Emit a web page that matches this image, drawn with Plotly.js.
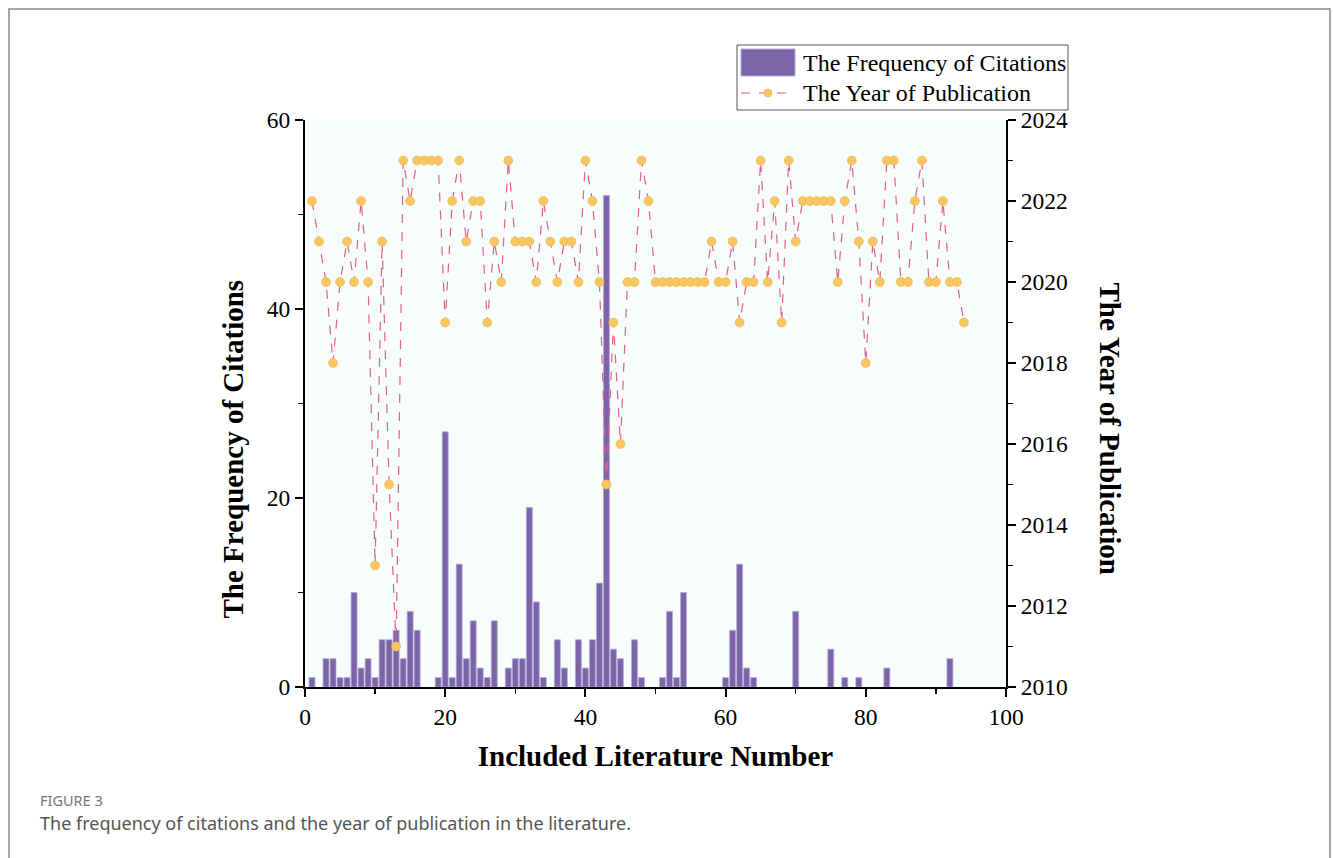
<!DOCTYPE html>
<html>
<head>
<meta charset="utf-8">
<script src="https://cdn.plot.ly/plotly-3.0.1.min.js"></script>
<style>
html,body{margin:0;padding:0;background:#fff;}
#chart{width:1333px;height:858px;}
</style>
</head>
<body>
<div id="chart"></div>
<script>
// Bar data: literature number -> frequency of citations
const barNumbers = [1,3,4,5,6,7,8,9,10,11,12,13,14,15,16,19,20,21,22,23,24,25,26,27,29,30,31,32,33,34,36,37,39,40,41,42,43,44,45,47,48,51,52,53,54,60,61,62,63,64,70,75,77,79,83,92];
const citations  = [1,3,3,1,1,10,2,3,1,5,5,6,3,8,6,1,27,1,13,3,7,2,1,7,2,3,3,19,9,1,5,2,5,2,5,11,52,4,3,5,1,1,8,1,10,1,6,13,2,1,8,4,1,1,2,3];

// Line data: literature number 1..94 -> year of publication
const yearNumbers = Array.from({length:94},(_,i)=>i+1);
const years = [
  2022,2021,2020,2018,2020,2021,2020,2022,2020,2013,
  2021,2015,2011,2023,2022,2023,2023,2023,2023,2019,
  2022,2023,2021,2022,2022,2019,2021,2020,2023,2021,
  2021,2021,2020,2022,2021,2020,2021,2021,2020,2023,
  2022,2020,2015,2019,2016,2020,2020,2023,2022,2020,
  2020,2020,2020,2020,2020,2020,2020,2021,2020,2020,
  2021,2019,2020,2020,2023,2020,2022,2019,2023,2021,
  2022,2022,2022,2022,2022,2020,2022,2023,2021,2018,
  2021,2020,2023,2023,2020,2020,2022,2023,2020,2020,
  2022,2020,2020,2019
];

const barName = "The Frequency of Citations";
const lineName = "The Year of Publication";
const xTitle = "Included Literature Number";
const figLabel = "FIGURE 3";
const caption = "The frequency of citations and the year of publication in the literature.";

const serif = "Liberation Serif, Times New Roman, serif";
const purple = "#7B64A8";
const pink = "#DE5F88";
const gold = "#F8C65E";

const traces = [
  {
    type: "bar", x: barNumbers, y: citations, name: barName,
    width: 0.85,
    marker: {color: purple, line: {color: "#B7A9D6", width: 0.8}},
    showlegend: false, hoverinfo: "x+y"
  },
  {
    type: "scatter", mode: "lines+markers", x: yearNumbers, y: years, name: lineName,
    yaxis: "y2",
    line: {color: pink, width: 1.2, dash: "dash"},
    marker: {color: gold, size: 9, line: {color: "#F0B450", width: 0.6}},
    showlegend: false
  }
];

const tickFont = {family: serif, size: 23.5, color: "#000"};

const layout = {
  width: 1333, height: 858,
  margin: {l: 305, r: 327, t: 120, b: 171, pad: 0},
  paper_bgcolor: "#ffffff",
  plot_bgcolor: "#F7FDFD",
  bargap: 0,
  xaxis: {
    range: [0, 100], tick0: 0, dtick: 20,
    ticks: "outside", ticklen: 8, tickwidth: 2, tickcolor: "#000",
    minor: {dtick: 10, ticks: "outside", ticklen: 5, tickwidth: 1.5, tickcolor: "#000"},
    showline: true, linecolor: "#000", linewidth: 2,
    showgrid: false, zeroline: false,
    tickfont: tickFont,
    title: {text: xTitle, font: {family: serif, size: 29, color: "#000", weight: "bold"}, standoff: 16}
  },
  yaxis: {
    range: [0, 60], tick0: 0, dtick: 20,
    ticks: "outside", ticklen: 8, tickwidth: 2, tickcolor: "#000",
    minor: {dtick: 10, ticks: "outside", ticklen: 5, tickwidth: 1.5, tickcolor: "#000"},
    showline: true, linecolor: "#000", linewidth: 2,
    showgrid: false, zeroline: false,
    tickfont: tickFont
  },
  yaxis2: {
    overlaying: "y", side: "right",
    range: [2010, 2024], tick0: 2010, dtick: 2,
    ticks: "outside", ticklen: 8, tickwidth: 2, tickcolor: "#000",
    minor: {dtick: 1, ticks: "outside", ticklen: 5, tickwidth: 1.5, tickcolor: "#000"},
    showline: true, linecolor: "#000", linewidth: 2,
    showgrid: false, zeroline: false,
    tickfont: tickFont
  },
  shapes: [
    // figure frame
    {type: "rect", xref: "paper", yref: "paper", xsizemode: "pixel", ysizemode: "pixel",
     xanchor: 0, yanchor: 0, x0: -296, x1: 1025, y0: -190, y1: 678,
     line: {color: "#8a8a8a", width: 1.5}, fillcolor: "rgba(0,0,0,0)", layer: "below"},
    // legend box
    {type: "rect", xref: "paper", yref: "paper", xsizemode: "pixel", ysizemode: "pixel",
     xanchor: 0, yanchor: 1, x0: 432, x1: 763, y0: 75, y1: 10,
     line: {color: "#555", width: 1}, fillcolor: "#fff"},
    // legend bar swatch
    {type: "rect", xref: "paper", yref: "paper", xsizemode: "pixel", ysizemode: "pixel",
     xanchor: 0, yanchor: 1, x0: 436, x1: 490, y0: 71, y1: 44,
     line: {color: "#B7A9D6", width: 1}, fillcolor: purple},
    // legend line swatch
    {type: "line", xref: "paper", yref: "paper", xsizemode: "pixel", ysizemode: "pixel",
     xanchor: 0, yanchor: 1, x0: 436, x1: 490, y0: 27, y1: 27,
     line: {color: pink, width: 1.2, dash: "dash"}},
    {type: "circle", xref: "paper", yref: "paper", xsizemode: "pixel", ysizemode: "pixel",
     xanchor: 0, yanchor: 1, x0: 459, x1: 467, y0: 31, y1: 23,
     line: {color: "#F0B450", width: 0.6}, fillcolor: gold}
  ],
  annotations: [
    {xref: "paper", yref: "paper", x: 0, y: 0.5, xshift: -91, yshift: -46, text: "<b>" + barName + "</b>",
     textangle: -90, showarrow: false, font: {family: serif, size: 29, color: "#000"}},
    {xref: "paper", yref: "paper", x: 1, y: 0.5, xshift: 122, yshift: -25, text: "<b>" + lineName + "</b>",
     textangle: 90, showarrow: false, font: {family: serif, size: 29, color: "#000"}},
    {xref: "paper", yref: "paper", x: 0, y: 1, xshift: 496, yshift: 57, xanchor: "left", yanchor: "middle",
     text: barName, showarrow: false, font: {family: serif, size: 24, color: "#000"}},
    {xref: "paper", yref: "paper", x: 0, y: 1, xshift: 496, yshift: 27, xanchor: "left", yanchor: "middle",
     text: lineName, showarrow: false, font: {family: serif, size: 24, color: "#000"}},
    {xref: "paper", yref: "paper", x: 0, y: 0, xshift: -267, yshift: -113, xanchor: "left", yanchor: "middle",
     text: figLabel, showarrow: false, font: {family: "Noto Sans, Open Sans, sans-serif", size: 14.5, color: "#777"}},
    {xref: "paper", yref: "paper", x: 0, y: 0, xshift: -267, yshift: -136, xanchor: "left", yanchor: "middle",
     text: caption, showarrow: false, font: {family: "Noto Sans, Open Sans, sans-serif", size: 18, color: "#555"}}
  ]
};

Plotly.newPlot("chart", traces, layout, {displayModeBar: false, staticPlot: true});
</script>
</body>
</html>
